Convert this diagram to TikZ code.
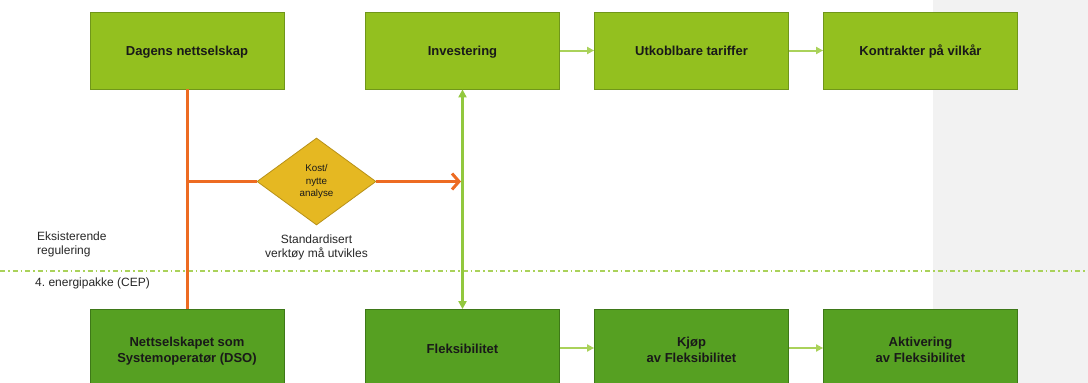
\documentclass[tikz,border=0pt]{standalone}
\usepackage{fontspec}
\setmainfont{Liberation Sans}
\usetikzlibrary{shapes.geometric,arrows.meta}
\frenchspacing

\definecolor{lightgreen}{RGB}{147,192,31}
\definecolor{lightgreenborder}{RGB}{112,150,26}
\definecolor{darkgreen}{RGB}{86,160,34}
\definecolor{darkgreenborder}{RGB}{62,120,24}
\definecolor{linkgreen}{RGB}{146,200,62}
\definecolor{flowgreen}{RGB}{170,210,90}
\definecolor{orangeline}{RGB}{237,107,34}
\definecolor{goldfill}{RGB}{229,184,34}
\definecolor{goldborder}{RGB}{184,145,24}
\definecolor{panelgray}{RGB}{242,242,242}
\definecolor{labelgray}{RGB}{38,38,38}

\tikzset{
  stage/.style={rectangle, draw=lightgreenborder, line width=0.8pt, fill=lightgreen,
    minimum width=194pt, minimum height=77pt, inner sep=2pt, align=center,
    font=\fontsize{13}{16.5}\selectfont\bfseries, text=black!90},
  stagedark/.style={stage, draw=darkgreenborder, fill=darkgreen},
  oneline/.style={text height=9pt, text depth=0pt},
  onelinelow/.style={text height=11.5pt, text depth=0pt},
  twoline/.style={text height=29pt, text depth=0pt},
  decision/.style={diamond, draw=goldborder, line width=0.8pt, fill=goldfill,
    minimum width=119pt, minimum height=87pt, inner sep=0pt, align=center,
    font=\fontsize{9.8}{12.5}\selectfont, text=black!90},
  note/.style={align=center, font=\fontsize{12}{14.5}\selectfont, text=labelgray, inner sep=0pt},
  sidenote/.style={note, align=left, anchor=west},
  flow/.style={draw=flowgreen, line width=2pt, -{Triangle[length=7pt,width=7pt]}},
  link/.style={draw=linkgreen, line width=2.6pt,
    {Triangle[length=8pt,width=8pt]}-{Triangle[length=8pt,width=8pt]}},
  orangepath/.style={draw=orangeline, line width=3pt},
  boundary/.style={draw=flowgreen, line width=1.3pt,
    dash pattern=on 5pt off 3pt on 1.5pt off 3pt}
}

\begin{document}
\begin{tikzpicture}[x=1pt,y=-1pt]
  \useasboundingbox (0,0) rectangle (1088,383);
  \clip (0,0) rectangle (1088,383);

  % grey side panel
  \fill[panelgray] (933,0) rectangle (1088,383);

  % regulatory boundary
  \coordinate (bl) at (0,271);
  \coordinate (br) at (1088,271);
  \draw[boundary] (bl) -- (br);

  % top row
  \node[stage, oneline] (dagens) at (187,50.5) {Dagens nettselskap};
  \node[stage, oneline] (invest) at (462.5,50.5) {Investering};
  \node[stage, oneline] (utkobl) at (691.5,50.5) {Utkoblbare tariffer};
  \node[stage, oneline] (kontr) at (920.5,50.5) {Kontrakter på vilkår};

  % bottom row
  \node[stagedark, twoline] (dso) at (187,348) {Nettselskapet som\\Systemoperatør (DSO)};
  \node[stagedark, onelinelow] (fleks) at (462.5,348) {Fleksibilitet};
  \node[stagedark, twoline] (kjop) at (691.5,348) {Kjøp\\av Fleksibilitet};
  \node[stagedark, twoline] (aktiv) at (920.5,348) {Aktivering\\av Fleksibilitet};

  % decision
  \node[decision] (kost) at (316.5,181.5) {Kost/\\nytte\\analyse};
  \node[note] (std) at (316.5,247.5) {Standardisert\\verktøy må utvikles};

  % side labels
  \node[sidenote] (eks) at (37,244.5) {Eksisterende\\regulering};
  \node[sidenote] (cep) at (35,283) {4. energipakke (CEP)};

  % green connectors
  \draw[link] (invest.south) -- (fleks.north);
  \draw[flow] (invest) -- (utkobl);
  \draw[flow] (utkobl) -- (kontr);
  \draw[flow] (fleks) -- (kjop);
  \draw[flow] (kjop) -- (aktiv);

  % orange connectors
  \coordinate (split) at (dagens.south |- kost.west);
  \coordinate (target) at (invest.south |- kost.east);
  \draw[orangepath] (dagens.south) -- (dso.north);
  \draw[orangepath] (split) -- (kost.west);
  \draw[orangepath, -{Straight Barb[length=7pt,width=16pt,line width=3pt]}]
    (kost.east) -- ([xshift=-1.5pt]target);
\end{tikzpicture}
\end{document}
